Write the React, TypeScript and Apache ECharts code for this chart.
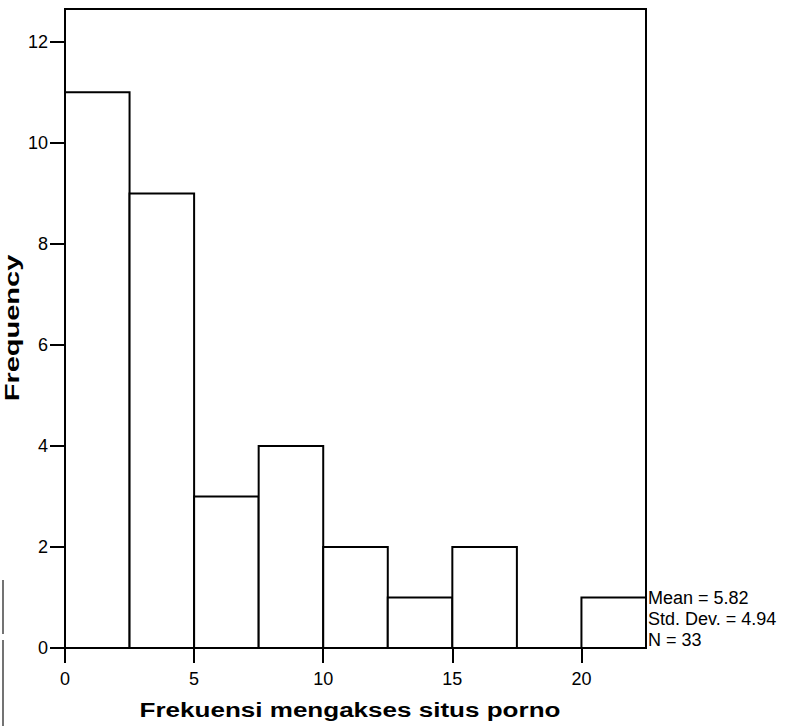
import React, { useEffect, useRef } from "react";
import * as echarts from "echarts";

const binStarts = [0, 2.5, 5, 7.5, 10, 12.5, 15, 17.5, 20];
const binEnds = [2.5, 5, 7.5, 10, 12.5, 15, 17.5, 20, 22.5];
const frequencies = [11, 9, 3, 4, 2, 1, 2, 0, 1];
const xTicks = [0, 5, 10, 15, 20];
const yTicks = [0, 2, 4, 6, 8, 10, 12];
const statsLines = ["Mean = 5.82", "Std. Dev. = 4.94", "N = 33"];
const xTitle = "Frekuensi mengakses situs porno";
const yTitle = "Frequency";

const FONT = "'Liberation Sans', Arial, Helvetica, sans-serif";
const statsY = [598, 619, 640];

export default function App() {
  const ref = useRef<HTMLDivElement>(null);
  useEffect(() => {
    if (!ref.current) return;
    const chart = echarts.init(ref.current, undefined, { renderer: "svg" });
    const data = binStarts.map((s, i) => [s, binEnds[i], frequencies[i]]);
    chart.setOption({
      animation: false,
      backgroundColor: "#fff",
      grid: {
        left: 65,
        right: 143,
        top: 9,
        bottom: 78,
        show: true,
        borderColor: "#000",
        borderWidth: 2,
        containLabel: false,
      },
      xAxis: {
        type: "value",
        min: 0,
        max: 22.5,
        splitLine: { show: false },
        axisLine: { show: true, lineStyle: { color: "#000", width: 2 } },
        axisTick: {
          show: true,
          inside: false,
          length: 15,
          customValues: xTicks,
          lineStyle: { color: "#000", width: 2 },
        },
        axisLabel: {
          customValues: xTicks,
          margin: 22,
          color: "#000",
          fontSize: 18,
          fontFamily: FONT,
        },
      },
      yAxis: {
        type: "value",
        min: 0,
        max: 12.65,
        splitLine: { show: false },
        axisLine: { show: true, lineStyle: { color: "#000", width: 2 } },
        axisTick: {
          show: true,
          inside: false,
          length: 15,
          customValues: yTicks,
          lineStyle: { color: "#000", width: 2 },
        },
        axisLabel: {
          customValues: yTicks,
          margin: 17,
          color: "#000",
          fontSize: 18,
          fontFamily: FONT,
        },
      },
      series: [
        {
          type: "custom",
          data,
          encode: { x: [0, 1], y: 2 },
          renderItem: (params: any, api: any) => {
            const s = api.value(0);
            const e = api.value(1);
            const f = api.value(2);
            if (!f) return { type: "group", children: [] };
            const p0 = api.coord([s, f]);
            const p1 = api.coord([e, 0]);
            return {
              type: "rect",
              shape: {
                x: p0[0],
                y: p0[1],
                width: p1[0] - p0[0],
                height: p1[1] - p0[1],
              },
              style: { fill: "#fff", stroke: "#000", lineWidth: 2 },
            };
          },
        },
      ],
      graphic: [
        {
          type: "text",
          x: 350,
          y: 710,
          scaleX: 1.24,
          style: {
            text: xTitle,
            font: `bold 21px ${FONT}`,
            fill: "#000",
            align: "center",
            verticalAlign: "middle",
          },
        },
        {
          type: "text",
          x: 12,
          y: 328,
          rotation: Math.PI / 2,
          scaleX: 1.45,
          style: {
            text: yTitle,
            font: `bold 20px ${FONT}`,
            fill: "#000",
            align: "center",
            verticalAlign: "middle",
          },
        },
        ...statsLines.map((t, i) => ({
          type: "text",
          x: 648,
          y: statsY[i],
          style: {
            text: t,
            font: `18px ${FONT}`,
            fill: "#000",
            align: "left",
            verticalAlign: "middle",
          },
        })),
        {
          type: "line",
          shape: { x1: 3, y1: 580, x2: 3, y2: 634 },
          style: { stroke: "#444", lineWidth: 1.5 },
        },
        {
          type: "line",
          shape: { x1: 3, y1: 640, x2: 3, y2: 726 },
          style: { stroke: "#444", lineWidth: 1.5 },
        },
      ],
    });
    return () => chart.dispose();
  }, []);
  return (
    <div
      ref={ref}
      style={{ position: "fixed", left: 0, top: 0, width: 789, height: 726 }}
    />
  );
}
